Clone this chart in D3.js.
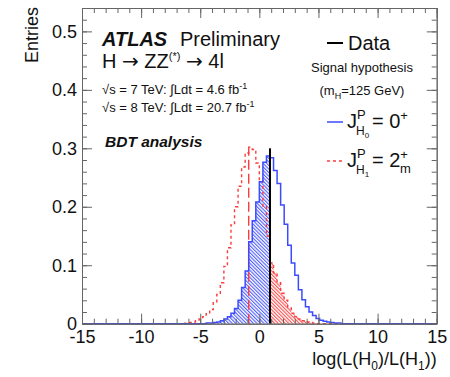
<!DOCTYPE html>
<html>
<head>
<meta charset="utf-8">
<script src="https://cdn.jsdelivr.net/npm/d3@7"></script>
<style>
  body { margin: 0; background: #fff; }
  svg { font-family: "Liberation Sans", Arial, sans-serif; }
</style>
</head>
<body>
<script>
// histogram binning over the x range
const xRange = [-15, 15];
const binWidth = 0.3;

// H0 (0+) expected distribution, first bin low edge and contents
const h0Start = -4.5;
const h0Values = [0.001, 0.001, 0.002, 0.003, 0.005, 0.008, 0.012, 0.018, 0.026, 0.040,
  0.062, 0.090, 0.140, 0.176, 0.208, 0.243, 0.276, 0.287, 0.284, 0.262,
  0.240, 0.203, 0.170, 0.134, 0.104, 0.083, 0.058, 0.041, 0.029, 0.020,
  0.014, 0.009, 0.006, 0.004, 0.003, 0.002, 0.001, 0.001];

// H1 (2m+) expected distribution
const h1Start = -6.3;
const h1Values = [0.001, 0.002, 0.003, 0.005, 0.008, 0.012, 0.017, 0.024, 0.036, 0.050,
  0.070, 0.098, 0.130, 0.169, 0.200, 0.235, 0.268, 0.292, 0.302, 0.298,
  0.275, 0.245, 0.200, 0.150, 0.104, 0.087, 0.070, 0.052, 0.040, 0.027,
  0.018, 0.012, 0.008, 0.005, 0.003, 0.002, 0.001];

const dataX = 0.9, dataTop = 0.30;
const h1MedianX = -0.9, h1MedianTop = 0.30;

const xMajor = [-15, -10, -5, 0, 5, 10, 15];
const yMajor = [0, 0.1, 0.2, 0.3, 0.4, 0.5];

const W = 450, H = 377;
const blue = "#3b4cff", red = "#ff3c3c";

const svg = d3.select("body").append("svg").attr("width", W).attr("height", H);

const x = d3.scaleLinear().domain(xRange).range([82, 436.7]);
const y = d3.scaleLinear().domain([0, 0.54]).range([323.7, 8]);

let nBins = Math.round((xRange[1] - xRange[0]) / binWidth);
let fullBins = (start, vals) => {
    let out = [];
    let off = Math.round((start - xRange[0]) / binWidth);
    for (let i = 0; i < nBins; i++) {
        let v = (i >= off && i < off + vals.length) ? vals[i - off] : 0;
        out.push({lo: xRange[0] + i * binWidth, v: v});
    }
    out.push({lo: xRange[1], v: out[out.length - 1].v});
    return out;
};
const h0Bins = fullBins(h0Start, h0Values);
const h1Bins = fullBins(h1Start, h1Values);

// hatch patterns
const defs = svg.append("defs");
[["hatchBlue", blue], ["hatchRed", red]].forEach(p => {
    defs.append("pattern")
        .attr("id", p[0])
        .attr("patternUnits", "userSpaceOnUse")
        .attr("width", 2.5).attr("height", 6)
        .attr("patternTransform", "rotate(-45)")
        .append("line")
        .attr("x1", 0.6).attr("y1", 0).attr("x2", 0.6).attr("y2", 6)
        .attr("stroke", p[1]).attr("stroke-width", 1);
});

const area = d3.area()
    .curve(d3.curveStepAfter)
    .x(d => x(d.lo)).y0(y(0)).y1(d => y(d.v));
const line = d3.line()
    .curve(d3.curveStepAfter)
    .x(d => x(d.lo)).y(d => y(d.v));

// blue hatched part: left of the data
let blueLeft = h0Bins.filter(d => d.lo < dataX - 1e-9);
blueLeft.push({lo: dataX, v: blueLeft[blueLeft.length - 1].v});
svg.append("path").attr("d", area(blueLeft)).attr("fill", "url(#hatchBlue)");

// red hatched part: right of the data
let redRight = h1Bins.filter(d => d.lo >= dataX - 1e-9);
svg.append("path").attr("d", area(redRight)).attr("fill", "url(#hatchRed)");

// red histogram (dashed)
svg.append("path").attr("d", line(h1Bins))
    .attr("fill", "none").attr("stroke", red).attr("stroke-width", 1.4)
    .attr("stroke-dasharray", "3,3");

// red median line (long dash)
svg.append("line")
    .attr("x1", x(h1MedianX)).attr("x2", x(h1MedianX))
    .attr("y1", y(0)).attr("y2", y(h1MedianTop))
    .attr("stroke", red).attr("stroke-width", 1.4).attr("stroke-dasharray", "10,4");

// blue histogram
svg.append("path").attr("d", line(h0Bins))
    .attr("fill", "none").attr("stroke", blue).attr("stroke-width", 1.5);

// data
svg.append("line")
    .attr("x1", x(dataX)).attr("x2", x(dataX))
    .attr("y1", y(0)).attr("y2", y(dataTop))
    .attr("stroke", "#000").attr("stroke-width", 2);

// axes and frame
const axisColor = "#666";
const minorX = d3.range(-15, 15.01, 1);
const minorY = d3.range(0, 0.541, 0.02);

let styleAxis = g => {
    g.select(".domain").attr("stroke", axisColor);
    g.selectAll(".tick line").attr("stroke", axisColor);
    g.selectAll(".tick text").attr("fill", "#111").style("font-size", "18px")
        .style("font-family", "'Liberation Sans', Arial, sans-serif");
};

svg.append("g").attr("transform", `translate(0,${y(0)})`)
    .call(d3.axisBottom(x).tickValues(minorX).tickSizeInner(-5).tickSizeOuter(0).tickFormat(""))
    .call(styleAxis);
svg.append("g").attr("transform", `translate(0,${y(0)})`)
    .call(d3.axisBottom(x).tickValues(xMajor).tickSizeInner(-10).tickSizeOuter(0).tickPadding(7)
        .tickFormat(d => String(d)))
    .call(styleAxis);

svg.append("g").attr("transform", `translate(0,${y(0.54)})`)
    .call(d3.axisTop(x).tickValues(minorX).tickSizeInner(-5).tickSizeOuter(0).tickFormat(""))
    .call(styleAxis);
svg.append("g").attr("transform", `translate(0,${y(0.54)})`)
    .call(d3.axisTop(x).tickValues(xMajor).tickSizeInner(-10).tickSizeOuter(0).tickFormat(""))
    .call(styleAxis);

svg.append("g").attr("transform", `translate(${x(-15)},0)`)
    .call(d3.axisLeft(y).tickValues(minorY).tickSizeInner(-5).tickSizeOuter(0).tickFormat(""))
    .call(styleAxis);
svg.append("g").attr("transform", `translate(${x(-15)},0)`)
    .call(d3.axisLeft(y).tickValues(yMajor).tickSizeInner(-10).tickSizeOuter(0).tickPadding(5)
        .tickFormat(d => d === 0 ? "0" : d.toFixed(1)))
    .call(styleAxis);

svg.append("g").attr("transform", `translate(${x(15)},0)`)
    .call(d3.axisRight(y).tickValues(minorY).tickSizeInner(-5).tickSizeOuter(0).tickFormat(""))
    .call(styleAxis);
svg.append("g").attr("transform", `translate(${x(15)},0)`)
    .call(d3.axisRight(y).tickValues(yMajor).tickSizeInner(-10).tickSizeOuter(0).tickFormat(""))
    .call(styleAxis);

// axis titles
svg.append("text")
    .attr("transform", "translate(38,7) rotate(-90)")
    .attr("text-anchor", "end").style("font-size", "18px").attr("fill", "#111")
    .text("Entries");

let xt = svg.append("text")
    .attr("x", 436.7).attr("y", 365).attr("text-anchor", "end")
    .style("font-size", "18px").attr("fill", "#111");
xt.append("tspan").text("log(L(H");
xt.append("tspan").attr("dy", 5).style("font-size", "12px").text("0");
xt.append("tspan").attr("dy", -5).text(")/L(H");
xt.append("tspan").attr("dy", 5).style("font-size", "12px").text("1");
xt.append("tspan").attr("dy", -5).text("))");

// labels
let t = svg.append("text").attr("x", 102).attr("y", 46).style("font-size", "20px").attr("fill", "#111");
t.append("tspan").style("font-weight", "bold").style("font-style", "italic").text("ATLAS");
t.append("tspan").attr("x", 180).text("Preliminary");

t = svg.append("text").attr("x", 102).attr("y", 68).style("font-size", "20px").attr("fill", "#111");
t.append("tspan").text("H ");
t.append("tspan").style("font-family", "'DejaVu Sans'").text("\u2192");
t.append("tspan").text(" ZZ");
t.append("tspan").attr("dy", -8).style("font-size", "11px").text("(*)");
t.append("tspan").attr("dy", 8).text(" ");
t.append("tspan").style("font-family", "'DejaVu Sans'").text("\u2192");
t.append("tspan").text(" 4l");

[["7", "4.6", 94], ["8", "20.7", 112]].forEach(r => {
    let s = svg.append("text").attr("x", 102).attr("y", r[2]).style("font-size", "13px").attr("fill", "#111");
    s.append("tspan").text(`\u221As = ${r[0]} TeV: \u222BLdt = ${r[1]} fb`);
    s.append("tspan").attr("dy", -5).style("font-size", "9px").text("-1");
});

svg.append("text").attr("x", 105).attr("y", 147)
    .style("font-size", "15.5px").style("font-weight", "bold").style("font-style", "italic")
    .attr("fill", "#111").text("BDT analysis");

// legend
svg.append("line").attr("x1", 327).attr("x2", 343).attr("y1", 43).attr("y2", 43)
    .attr("stroke", "#000").attr("stroke-width", 2);
svg.append("text").attr("x", 348).attr("y", 50).style("font-size", "20px").attr("fill", "#111").text("Data");

svg.append("text").attr("x", 362).attr("y", 72).attr("text-anchor", "middle")
    .style("font-size", "13px").attr("fill", "#111").text("Signal hypothesis");
t = svg.append("text").attr("x", 362).attr("y", 95).attr("text-anchor", "middle")
    .style("font-size", "13px").attr("fill", "#111");
t.append("tspan").text("(m");
t.append("tspan").attr("dy", 4).style("font-size", "9px").text("H");
t.append("tspan").attr("dy", -4).text("=125 GeV)");

let legendJ = (yy, col, dash, sub, val, valSub) => {
    svg.append("line").attr("x1", 327).attr("x2", 343).attr("y1", yy - 6).attr("y2", yy - 6)
        .attr("stroke", col).attr("stroke-width", 1.5).attr("stroke-dasharray", dash);
    let g = svg.append("text").attr("x", 347).attr("y", yy).style("font-size", "20px").attr("fill", "#111");
    g.append("tspan").text("J");
    g.append("tspan").attr("dy", -9).style("font-size", "13px").text("P");
    g.append("tspan").attr("x", 356).attr("dy", 16).style("font-size", "12px").text("H");
    g.append("tspan").attr("dy", 3).style("font-size", "8px").text(sub);
    g.append("tspan").attr("x", 372).attr("dy", -10).text("= " + val);
    g.append("tspan").attr("dy", -8).style("font-size", "13px").text("+");
    if (valSub) {
        g.append("tspan").attr("dx", -8).attr("dy", 14).style("font-size", "13px").text(valSub);
    }
};
legendJ(128, blue, null, "0", "0", null);
legendJ(167, red, "3,3", "1", "2", "m");
</script>
</body>
</html>
